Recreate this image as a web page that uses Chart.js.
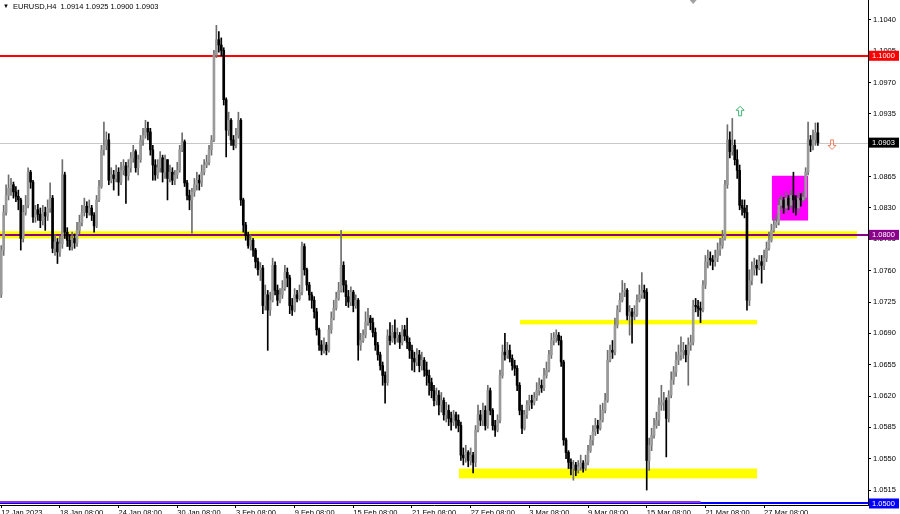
<!DOCTYPE html>
<html>
<head>
<meta charset="utf-8">
<script src="https://cdn.jsdelivr.net/npm/chart.js@4.4.1/dist/chart.umd.min.js"></script>
<style>
  html, body { margin: 0; padding: 0; background: #fff; }
</style>
</head>
<body>
<canvas id="myChart" width="900" height="514"></canvas>
<script>
// EURUSD H4, 12 Jan - 31 Mar 2023, prices
const symbol = 'EURUSD,H4';
const firstOpen = 1.0733;
const closes = [
  1.0783, 1.0825, 1.0844, 1.0852, 1.0856, 1.0848, 1.0843, 1.0839, 1.0796, 1.0825,
  1.0833, 1.0870, 1.0859, 1.0820, 1.0828, 1.0823, 1.0816, 1.0825, 1.0821, 1.0830,
  1.0841, 1.0785, 1.0792, 1.0781, 1.0790, 1.0867, 1.0803, 1.0794, 1.0787, 1.0796,
  1.0791, 1.0805, 1.0814, 1.0825, 1.0832, 1.0825, 1.0830, 1.0822, 1.0810, 1.0839,
  1.0854, 1.0895, 1.0900, 1.0906, 1.0861, 1.0867, 1.0863, 1.0870, 1.0859, 1.0872,
  1.0877, 1.0866, 1.0875, 1.0886, 1.0893, 1.0875, 1.0884, 1.0906, 1.0911, 1.0919,
  1.0915, 1.0895, 1.0878, 1.0867, 1.0875, 1.0886, 1.0870, 1.0884, 1.0863, 1.0870,
  1.0861, 1.0867, 1.0872, 1.0895, 1.0904, 1.0858, 1.0844, 1.0839, 1.0848, 1.0856,
  1.0861, 1.0858, 1.0870, 1.0878, 1.0881, 1.0895, 1.0906, 1.1001, 1.1018, 1.1012,
  1.1006, 1.0951, 1.0917, 1.0928, 1.0906, 1.0900, 1.0911, 1.0928, 1.0839, 1.0811,
  1.0799, 1.0788, 1.0794, 1.0783, 1.0770, 1.0761, 1.0763, 1.0721, 1.0733, 1.0716,
  1.0727, 1.0766, 1.0738, 1.0727, 1.0733, 1.0740, 1.0758, 1.0752, 1.0721, 1.0716,
  1.0733, 1.0729, 1.0736, 1.0787, 1.0761, 1.0744, 1.0733, 1.0727, 1.0714, 1.0694,
  1.0677, 1.0671, 1.0677, 1.0671, 1.0694, 1.0707, 1.0718, 1.0729, 1.0738, 1.0766,
  1.0744, 1.0731, 1.0725, 1.0736, 1.0721, 1.0727, 1.0677, 1.0682, 1.0688, 1.0702,
  1.0707, 1.0702, 1.0691, 1.0677, 1.0666, 1.0654, 1.0643, 1.0635, 1.0687, 1.0682,
  1.0691, 1.0685, 1.0688, 1.0680, 1.0694, 1.0687, 1.0680, 1.0671, 1.0662, 1.0658,
  1.0666, 1.0654, 1.0660, 1.0649, 1.0643, 1.0635, 1.0626, 1.0615, 1.0621, 1.0610,
  1.0615, 1.0599, 1.0604, 1.0595, 1.0591, 1.0599, 1.0593, 1.0587, 1.0554, 1.0551,
  1.0557, 1.0548, 1.0554, 1.0546, 1.0582, 1.0599, 1.0593, 1.0604, 1.0587, 1.0626,
  1.0604, 1.0587, 1.0582, 1.0593, 1.0643, 1.0669, 1.0666, 1.0671, 1.0662, 1.0654,
  1.0651, 1.0632, 1.0604, 1.0584, 1.0599, 1.0610, 1.0615, 1.0613, 1.0618, 1.0626,
  1.0632, 1.0629, 1.0643, 1.0649, 1.0666, 1.0682, 1.0685, 1.0688, 1.0682, 1.0658,
  1.0571, 1.0557, 1.0546, 1.0539, 1.0543, 1.0537, 1.0541, 1.0545, 1.0539, 1.0546,
  1.0559, 1.0571, 1.0580, 1.0587, 1.0584, 1.0593, 1.0604, 1.0615, 1.0660, 1.0671,
  1.0669, 1.0699, 1.0716, 1.0727, 1.0736, 1.0738, 1.0710, 1.0714, 1.0709, 1.0711,
  1.0727, 1.0733, 1.0738, 1.0736, 1.0548, 1.0565, 1.0576, 1.0587, 1.0593, 1.0610,
  1.0613, 1.0615, 1.0595, 1.0621, 1.0638, 1.0647, 1.0660, 1.0666, 1.0669, 1.0671,
  1.0666, 1.0677, 1.0680, 1.0721, 1.0720, 1.0718, 1.0716, 1.0744, 1.0770, 1.0774,
  1.0772, 1.0770, 1.0774, 1.0783, 1.0788, 1.0796, 1.0856, 1.0906, 1.0893, 1.0900,
  1.0884, 1.0872, 1.0833, 1.0830, 1.0825, 1.0727, 1.0749, 1.0761, 1.0766, 1.0763,
  1.0770, 1.0766, 1.0774, 1.0785, 1.0794, 1.0805, 1.0811, 1.0814, 1.0833, 1.0839,
  1.0830, 1.0841, 1.0833, 1.0844, 1.0839, 1.0830, 1.0841, 1.0839, 1.0842, 1.0870,
  1.0906, 1.0900, 1.0906, 1.0914, 1.0903
];
const highs = [
  1.0788, 1.0833, 1.0856, 1.0867, 1.0863, 1.0859, 1.0854, 1.0850, 1.0841, 1.0833,
  1.0844, 1.0875, 1.0872, 1.0861, 1.0833, 1.0834, 1.0830, 1.0833, 1.0831, 1.0839,
  1.0858, 1.0844, 1.0800, 1.0796, 1.0799, 1.0884, 1.0870, 1.0808, 1.0800, 1.0803,
  1.0801, 1.0814, 1.0822, 1.0833, 1.0841, 1.0837, 1.0839, 1.0833, 1.0825, 1.0844,
  1.0861, 1.0900, 1.0926, 1.0915, 1.0913, 1.0875, 1.0872, 1.0878, 1.0875, 1.0881,
  1.0884, 1.0881, 1.0884, 1.0892, 1.0900, 1.0895, 1.0889, 1.0911, 1.0919, 1.0928,
  1.0926, 1.0919, 1.0900, 1.0884, 1.0884, 1.0893, 1.0889, 1.0889, 1.0884, 1.0878,
  1.0875, 1.0872, 1.0881, 1.0900, 1.0914, 1.0906, 1.0861, 1.0850, 1.0852, 1.0863,
  1.0870, 1.0867, 1.0878, 1.0884, 1.0889, 1.0900, 1.0911, 1.1006, 1.1034, 1.1027,
  1.1020, 1.1009, 1.0953, 1.0937, 1.0930, 1.0911, 1.0919, 1.0937, 1.0930, 1.0841,
  1.0814, 1.0803, 1.0800, 1.0796, 1.0785, 1.0774, 1.0769, 1.0766, 1.0744, 1.0738,
  1.0736, 1.0774, 1.0770, 1.0744, 1.0740, 1.0749, 1.0766, 1.0763, 1.0755, 1.0729,
  1.0740, 1.0738, 1.0744, 1.0792, 1.0790, 1.0763, 1.0747, 1.0736, 1.0731, 1.0718,
  1.0696, 1.0682, 1.0685, 1.0680, 1.0699, 1.0714, 1.0727, 1.0736, 1.0747, 1.0805,
  1.0770, 1.0749, 1.0738, 1.0742, 1.0738, 1.0733, 1.0729, 1.0690, 1.0694, 1.0714,
  1.0718, 1.0710, 1.0707, 1.0696, 1.0680, 1.0669, 1.0658, 1.0647, 1.0694, 1.0702,
  1.0699, 1.0705, 1.0696, 1.0691, 1.0699, 1.0699, 1.0707, 1.0685, 1.0677, 1.0669,
  1.0673, 1.0671, 1.0669, 1.0663, 1.0658, 1.0649, 1.0640, 1.0632, 1.0629, 1.0626,
  1.0624, 1.0618, 1.0613, 1.0610, 1.0602, 1.0604, 1.0602, 1.0599, 1.0591, 1.0562,
  1.0565, 1.0559, 1.0562, 1.0557, 1.0587, 1.0610, 1.0604, 1.0612, 1.0609, 1.0632,
  1.0629, 1.0606, 1.0593, 1.0599, 1.0649, 1.0677, 1.0690, 1.0680, 1.0677, 1.0666,
  1.0660, 1.0654, 1.0635, 1.0610, 1.0604, 1.0615, 1.0621, 1.0621, 1.0624, 1.0635,
  1.0640, 1.0638, 1.0651, 1.0658, 1.0671, 1.0690, 1.0691, 1.0694, 1.0691, 1.0687,
  1.0660, 1.0573, 1.0559, 1.0550, 1.0548, 1.0546, 1.0548, 1.0554, 1.0548, 1.0554,
  1.0565, 1.0576, 1.0587, 1.0595, 1.0593, 1.0610, 1.0612, 1.0623, 1.0671, 1.0677,
  1.0682, 1.0707, 1.0721, 1.0735, 1.0749, 1.0746, 1.0740, 1.0721, 1.0718, 1.0721,
  1.0733, 1.0744, 1.0758, 1.0744, 1.0740, 1.0573, 1.0584, 1.0595, 1.0602, 1.0618,
  1.0632, 1.0624, 1.0618, 1.0626, 1.0647, 1.0653, 1.0669, 1.0677, 1.0686, 1.0680,
  1.0677, 1.0685, 1.0688, 1.0727, 1.0729, 1.0727, 1.0725, 1.0749, 1.0777, 1.0783,
  1.0781, 1.0777, 1.0783, 1.0791, 1.0796, 1.0805, 1.0861, 1.0923, 1.0915, 1.0930,
  1.0906, 1.0895, 1.0878, 1.0839, 1.0839, 1.0833, 1.0761, 1.0770, 1.0774, 1.0772,
  1.0777, 1.0777, 1.0783, 1.0792, 1.0803, 1.0812, 1.0818, 1.0822, 1.0841, 1.0844,
  1.0842, 1.0848, 1.0844, 1.0850, 1.0870, 1.0844, 1.0848, 1.0846, 1.0848, 1.0875,
  1.0926, 1.0911, 1.0917, 1.0925, 1.0925
];
const lows = [
  1.0730, 1.0777, 1.0822, 1.0839, 1.0844, 1.0841, 1.0837, 1.0828, 1.0783, 1.0792,
  1.0822, 1.0830, 1.0852, 1.0814, 1.0814, 1.0816, 1.0808, 1.0811, 1.0805, 1.0816,
  1.0825, 1.0780, 1.0777, 1.0768, 1.0776, 1.0785, 1.0796, 1.0787, 1.0783, 1.0783,
  1.0785, 1.0787, 1.0801, 1.0810, 1.0821, 1.0819, 1.0822, 1.0816, 1.0803, 1.0808,
  1.0837, 1.0852, 1.0889, 1.0895, 1.0856, 1.0858, 1.0850, 1.0859, 1.0844, 1.0856,
  1.0867, 1.0835, 1.0861, 1.0870, 1.0881, 1.0870, 1.0867, 1.0881, 1.0900, 1.0908,
  1.0906, 1.0889, 1.0861, 1.0861, 1.0863, 1.0870, 1.0859, 1.0863, 1.0839, 1.0859,
  1.0856, 1.0856, 1.0863, 1.0870, 1.0893, 1.0854, 1.0839, 1.0828, 1.0802, 1.0843,
  1.0850, 1.0850, 1.0854, 1.0867, 1.0875, 1.0878, 1.0889, 1.0904, 1.0998, 1.1004,
  1.1000, 1.0945, 1.0887, 1.0911, 1.0900, 1.0895, 1.0897, 1.0908, 1.0833, 1.0803,
  1.0794, 1.0785, 1.0783, 1.0776, 1.0763, 1.0755, 1.0749, 1.0712, 1.0716, 1.0671,
  1.0710, 1.0725, 1.0733, 1.0721, 1.0724, 1.0729, 1.0738, 1.0742, 1.0712, 1.0710,
  1.0714, 1.0725, 1.0727, 1.0733, 1.0755, 1.0738, 1.0727, 1.0718, 1.0707, 1.0688,
  1.0671, 1.0666, 1.0668, 1.0666, 1.0669, 1.0690, 1.0705, 1.0716, 1.0727, 1.0736,
  1.0736, 1.0721, 1.0719, 1.0721, 1.0714, 1.0718, 1.0660, 1.0671, 1.0680, 1.0685,
  1.0699, 1.0694, 1.0686, 1.0671, 1.0660, 1.0649, 1.0632, 1.0612, 1.0632, 1.0677,
  1.0680, 1.0678, 1.0680, 1.0673, 1.0677, 1.0682, 1.0673, 1.0662, 1.0649, 1.0647,
  1.0654, 1.0647, 1.0649, 1.0642, 1.0632, 1.0621, 1.0618, 1.0609, 1.0610, 1.0599,
  1.0602, 1.0593, 1.0591, 1.0587, 1.0582, 1.0587, 1.0584, 1.0580, 1.0548, 1.0543,
  1.0546, 1.0541, 1.0543, 1.0534, 1.0541, 1.0580, 1.0587, 1.0587, 1.0582, 1.0584,
  1.0599, 1.0582, 1.0575, 1.0580, 1.0590, 1.0640, 1.0660, 1.0662, 1.0658, 1.0649,
  1.0643, 1.0626, 1.0599, 1.0578, 1.0582, 1.0595, 1.0604, 1.0606, 1.0610, 1.0615,
  1.0621, 1.0624, 1.0626, 1.0640, 1.0647, 1.0662, 1.0677, 1.0680, 1.0677, 1.0653,
  1.0565, 1.0550, 1.0539, 1.0532, 1.0526, 1.0531, 1.0534, 1.0537, 1.0535, 1.0537,
  1.0543, 1.0557, 1.0565, 1.0576, 1.0578, 1.0582, 1.0591, 1.0601, 1.0613, 1.0658,
  1.0662, 1.0666, 1.0696, 1.0714, 1.0725, 1.0731, 1.0705, 1.0688, 1.0679, 1.0705,
  1.0709, 1.0725, 1.0729, 1.0729, 1.0515, 1.0537, 1.0559, 1.0573, 1.0584, 1.0587,
  1.0604, 1.0604, 1.0552, 1.0591, 1.0618, 1.0633, 1.0642, 1.0655, 1.0660, 1.0662,
  1.0658, 1.0632, 1.0671, 1.0677, 1.0714, 1.0709, 1.0702, 1.0714, 1.0740, 1.0763,
  1.0766, 1.0761, 1.0765, 1.0770, 1.0777, 1.0785, 1.0794, 1.0852, 1.0886, 1.0889,
  1.0878, 1.0863, 1.0828, 1.0822, 1.0819, 1.0716, 1.0721, 1.0744, 1.0755, 1.0755,
  1.0761, 1.0746, 1.0761, 1.0770, 1.0783, 1.0792, 1.0803, 1.0808, 1.0811, 1.0828,
  1.0824, 1.0825, 1.0828, 1.0830, 1.0825, 1.0822, 1.0825, 1.0832, 1.0837, 1.0839,
  1.0867, 1.0893, 1.0895, 1.0900, 1.0900
];

// time axis labels (bar index where each label sits)
const tickIdx = [0, 24, 48, 72, 96, 120, 144, 168, 192, 216, 240, 264, 288, 312];
const tickLabels = ['12 Jan 2023', '18 Jan 08:00', '24 Jan 08:00', '30 Jan 08:00', '3 Feb 08:00',
  '9 Feb 08:00', '15 Feb 08:00', '21 Feb 08:00', '27 Feb 08:00', '3 Mar 08:00', '9 Mar 08:00',
  '15 Mar 08:00', '21 Mar 08:00', '27 Mar 08:00'];
const priceTicks = [1.1040, 1.1005, 1.0970, 1.0935, 1.0900, 1.0865, 1.0830, 1.0795,
  1.0760, 1.0725, 1.0690, 1.0655, 1.0620, 1.0585, 1.0550, 1.0515];

// horizontal levels drawn on the chart
const resistance = 1.1000;
const support = 1.0800;
const floorLevel = 1.0500;
// short line just above the floor level, ends at this bar
const floorTrendPrice = 1.05018;
const floorTrendEnd = 286;

// zones: bar index from/to, price top/bottom
const zoneFrom = [-0.5, 212.2, 187.2, 315.2];
const zoneTo = [350, 309.1, 309.1, 330];
const zoneTop = [1.0804, 1.0705, 1.0539, 1.0866];
const zoneBottom = [1.0796, 1.0700, 1.0528, 1.0816];
const zoneColors = ['#ffff00', '#ffff00', '#ffff00', '#ff00ff'];

// arrow marks: bar index, price
const arrowIdx = [302.2, 339.8];
const arrowPrice = [1.0938, 1.0901];

const shiftBars = 20;
const shiftMarkIdx = 283;

const opens = closes.map((c, i) => (i === 0 ? firstOpen : closes[i - 1]));
const isUp = closes.map((c, i) => c >= opens[i]);
const labels = Array.from({ length: closes.length + shiftBars }, (_, i) => i);
const last = closes.length - 1;

const fontFamily = '"Liberation Sans", Arial, sans-serif';
const fontSize = 7.5;

function drawArrow(ctx, cx, cy, up, color) {
  const s = up ? -1 : 1;
  ctx.beginPath();
  ctx.moveTo(cx, cy + s * 5);
  ctx.lineTo(cx + 4, cy + s * 1);
  ctx.lineTo(cx + 1.5, cy + s * 1);
  ctx.lineTo(cx + 1.5, cy - s * 4.5);
  ctx.lineTo(cx - 1.5, cy - s * 4.5);
  ctx.lineTo(cx - 1.5, cy + s * 1);
  ctx.lineTo(cx - 4, cy + s * 1);
  ctx.closePath();
  ctx.strokeStyle = color;
  ctx.lineWidth = 1;
  ctx.stroke();
}

const chartObjects = {
  id: 'chartObjects',
  beforeDatasetsDraw(chart) {
    const { ctx, chartArea: a, scales: { x, y } } = chart;
    ctx.save();
    zoneFrom.forEach((f, k) => {
      const x0 = x.getPixelForValue(f);
      const x1 = x.getPixelForValue(zoneTo[k]);
      const y0 = y.getPixelForValue(zoneTop[k]);
      const y1 = y.getPixelForValue(zoneBottom[k]);
      ctx.fillStyle = zoneColors[k];
      ctx.fillRect(x0, y0, x1 - x0, y1 - y0);
    });
    const hline = (v, color, w, x0, x1) => {
      const py = Math.round(y.getPixelForValue(v)) + (w % 2 ? 0.5 : 0);
      ctx.beginPath();
      ctx.moveTo(x0, py);
      ctx.lineTo(x1, py);
      ctx.strokeStyle = color;
      ctx.lineWidth = w;
      ctx.stroke();
    };
    hline(closes[last], '#c8c8c8', 1, a.left, a.right);
    hline(resistance, '#ff0000', 2, a.left, a.right);
    hline(support, '#8b008b', 2, a.left, a.right);
    hline(floorLevel, '#0000ff', 2, a.left, a.right);
    hline(floorTrendPrice, '#9932cc', 2, a.left, x.getPixelForValue(floorTrendEnd));
    ctx.restore();
  },
  afterDraw(chart) {
    const { ctx, chartArea: a, scales: { x, y } } = chart;
    ctx.save();
    // price boxes on the axis
    const box = (v, bg) => {
      const py = y.getPixelForValue(v);
      ctx.fillStyle = bg;
      ctx.fillRect(a.right + 1, py - 5, chart.width - a.right - 2, 10);
      ctx.fillStyle = '#fff';
      ctx.font = fontSize + 'px ' + fontFamily;
      ctx.textBaseline = 'middle';
      ctx.textAlign = 'left';
      ctx.fillText(v.toFixed(4), a.right + 4, py + 0.5);
    };
    box(resistance, '#ff0000');
    box(closes[last], '#000000');
    box(support, '#8b008b');
    box(floorLevel, '#0000ff');

    // arrows
    drawArrow(ctx, x.getPixelForValue(arrowIdx[0]), y.getPixelForValue(arrowPrice[0]), true, '#3cb371');
    drawArrow(ctx, x.getPixelForValue(arrowIdx[1]), y.getPixelForValue(arrowPrice[1]), false, '#f08060');

    // chart shift marker
    const sx = x.getPixelForValue(shiftMarkIdx);
    ctx.fillStyle = '#a0a0a0';
    ctx.beginPath();
    ctx.moveTo(sx - 3.5, a.top);
    ctx.lineTo(sx + 3.5, a.top);
    ctx.lineTo(sx, a.top + 4);
    ctx.closePath();
    ctx.fill();

    // title line
    ctx.fillStyle = '#000';
    ctx.textBaseline = 'middle';
    ctx.textAlign = 'left';
    ctx.font = '6px ' + fontFamily;
    ctx.fillText('\u25BC', 3, 6);
    ctx.font = fontSize + 'px ' + fontFamily;
    const ohlc = [opens[last], highs[last], lows[last], closes[last]].map((v) => v.toFixed(4)).join(' ');
    ctx.fillText(symbol + '  ' + ohlc, 13, 6.5);
    ctx.restore();
  }
};

const ctx = document.getElementById('myChart');

new Chart(ctx, {
  type: 'bar',
  plugins: [chartObjects],
  data: {
    labels: labels,
    datasets: [
      {
        label: 'body',
        data: closes.map((c, i) => [opens[i], c]),
        backgroundColor: isUp.map((u) => (u ? '#9a9a9a' : '#000000')),
        barThickness: 2,
        minBarLength: 1,
        grouped: false,
        order: 1,
      },
      {
        label: 'wick',
        data: closes.map((c, i) => [Math.min(lows[i], opens[i], c), Math.max(highs[i], opens[i], c)]),
        backgroundColor: isUp.map((u) => (u ? '#6e6e6e' : '#000000')),
        barThickness: 1,
        grouped: false,
        order: 2,
      },
    ],
  },
  options: {
    responsive: false,
    devicePixelRatio: 1,
    animation: false,
    layout: { padding: 0 },
    plugins: {
      legend: { display: false },
      tooltip: { enabled: false },
    },
    scales: {
      x: {
        offset: true,
        grid: { drawOnChartArea: false, drawTicks: true, tickLength: 3, offset: false, color: '#000' },
        border: { display: true, color: '#000' },
        ticks: {
          autoSkip: false,
          maxRotation: 0,
          align: 'start',
          padding: 0,
          color: '#000',
          font: { family: fontFamily, size: fontSize },
          callback: (v) => {
            const k = tickIdx.indexOf(v);
            return k >= 0 ? tickLabels[k] : '';
          },
        },
        afterBuildTicks: (s) => {
          s.ticks = tickIdx.map((v) => ({ value: v }));
        },
        afterFit: (s) => {
          s.height = 9;
          s.paddingLeft = 0;
          s.paddingRight = 0;
        },
      },
      y: {
        position: 'right',
        min: 1.04983,
        max: 1.10623,
        grid: { drawOnChartArea: false, tickLength: 3, color: '#000' },
        border: { display: true, color: '#000' },
        ticks: {
          padding: 2,
          color: '#000',
          font: { family: fontFamily, size: fontSize },
          callback: (v) => v.toFixed(4),
        },
        afterBuildTicks: (s) => {
          s.ticks = priceTicks.map((v) => ({ value: v }));
        },
        afterFit: (s) => {
          s.width = 32;
          s.paddingTop = 0;
          s.paddingBottom = 0;
        },
      },
    },
  },
});
</script>
</body>
</html>
